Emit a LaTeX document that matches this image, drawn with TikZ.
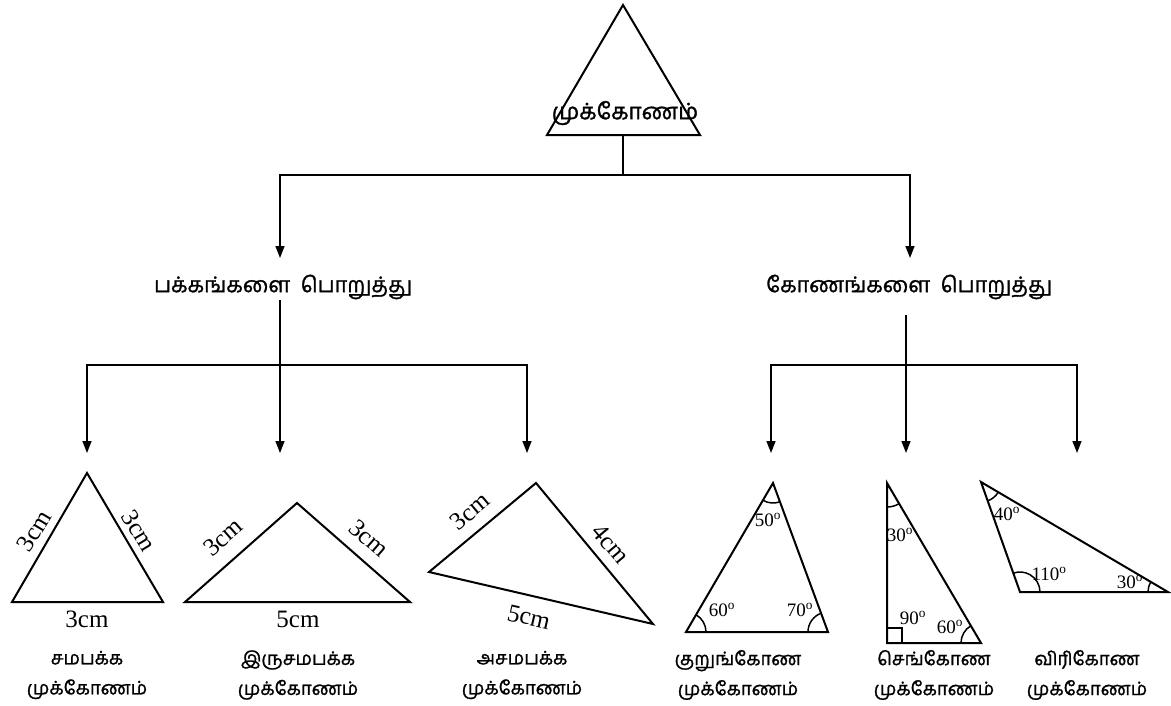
\documentclass[tikz,border=0pt]{standalone}
\usepackage{fontspec}
\setmainfont{Liberation Serif}
\newfontfamily\tafont[Script=Tamil,FakeBold=1.3]{Hind Madurai}
\usetikzlibrary{arrows.meta,angles}
\begin{document}
\begin{tikzpicture}[x=1pt,y=1pt,
  tri/.style={line width=2pt,line join=miter},
  conn/.style={line width=1.5pt},
  arr/.style={conn,-{Triangle[width=9pt,length=12pt]}},
  tam/.style={font=\tafont\fontsize{18.5}{30}\selectfont,inner sep=0pt,align=center},
  head/.style={font=\tafont\fontsize{21.5}{24}\selectfont,inner sep=0pt},
  lab/.style={font=\fontsize{25}{27}\selectfont,inner sep=0pt},
  deg/.style={font=\fontsize{19}{21}\selectfont,inner sep=0pt},
  arcmark/.style={draw,line width=1.5pt,angle radius=20pt}]
\useasboundingbox (0,0) rectangle (1171,-705);
% top triangle
\coordinate (T1) at (623,-5);
\coordinate (T2) at (547,-135);
\coordinate (T3) at (700,-135);
\draw[tri] (T1) -- (T2) -- (T3) -- cycle;
\node[tam,font=\tafont\fontsize{22.5}{24}\selectfont] (root) at (625,-113) {முக்கோணம்};
\coordinate (rootbase) at (623,-135);
\coordinate (j0) at (623,-175);
\coordinate (sidetip) at (280,-258);
\coordinate (angtip) at (910,-258);
\draw[conn] (rootbase) -- (j0);
\draw[arr] (j0) -| (sidetip);
\draw[arr] (j0) -| (angtip);
\node[head] (side) at (283,-287) {பக்கங்களை\ \ பொறுத்து};
\node[head] (angle) at (909,-287) {கோணங்களை\ \ பொறுத்து};
% left branch
\coordinate (sj) at (280,-300);
\coordinate (sh) at (280,-365);
\coordinate (s1) at (87,-453);
\coordinate (s2) at (280,-453);
\coordinate (s3) at (527,-453);
\draw[arr] (sj) -- (s2);
\draw[arr] (sh) -| (s1);
\draw[arr] (sh) -| (s3);
% right branch
\coordinate (aj) at (906,-315);
\coordinate (ah) at (906,-365);
\coordinate (a1) at (771,-453);
\coordinate (a2) at (906,-453);
\coordinate (a3) at (1077,-453);
\draw[arr] (aj) -- (a2);
\draw[arr] (ah) -| (a1);
\draw[arr] (ah) -| (a3);
% equilateral
\coordinate (E1) at (87,-473);
\coordinate (E2) at (12,-602);
\coordinate (E3) at (163,-602);
\draw[tri] (E1) -- (E2) -- (E3) -- cycle;
\node[lab,rotate=59] (e1) at (34,-531) {3cm};
\node[lab,rotate=-59] (e2) at (139,-531) {3cm};
\node[lab] (e3) at (87,-619) {3cm};
% isosceles
\coordinate (I1) at (297,-503);
\coordinate (I2) at (185,-602);
\coordinate (I3) at (410,-602);
\draw[tri] (I1) -- (I2) -- (I3) -- cycle;
\node[lab,rotate=41] (i1) at (223,-537) {3cm};
\node[lab,rotate=-41] (i2) at (369,-538) {3cm};
\node[lab] (i3) at (298,-619) {5cm};
% scalene
\coordinate (S1) at (536,-483);
\coordinate (S2) at (429,-572);
\coordinate (S3) at (653,-624);
\draw[tri] (S1) -- (S2) -- (S3) -- cycle;
\node[lab,rotate=40] (c1) at (470,-511) {3cm};
\node[lab,rotate=-50] (c2) at (611,-544) {4cm};
\node[lab,rotate=-13] (c3) at (529,-617) {5cm};
% acute
\coordinate (A) at (773,-483);
\coordinate (L) at (686,-632);
\coordinate (R) at (828,-632);
\draw[tri] (A) -- (L) -- (R) -- cycle;
\pic[arcmark] {angle=L--A--R};
\pic[arcmark] {angle=R--L--A};
\pic[arcmark] {angle=A--R--L};
\node[deg] (d50) at (768,-520) {50\textsuperscript{o}};
\node[deg] (d60a) at (722,-610) {60\textsuperscript{o}};
\node[deg] (d70) at (800,-610) {70\textsuperscript{o}};
% right
\coordinate (RT) at (887,-483);
\coordinate (RL) at (887,-643);
\coordinate (RR) at (981,-643);
\draw[tri] (RT) -- (RL) -- (RR) -- cycle;
\pic[arcmark,angle radius=24pt] {angle=RL--RT--RR};
\pic[arcmark] {angle=RT--RR--RL};
\draw[line width=1.5pt] (887,-628) -- (902,-628) -- (902,-643);
\node[deg] (d30a) at (900,-535) {30\textsuperscript{o}};
\node[deg] (d90) at (913,-618) {90\textsuperscript{o}};
\node[deg] (d60b) at (950,-627) {60\textsuperscript{o}};
% obtuse
\coordinate (P) at (981,-482);
\coordinate (Q) at (1020,-592);
\coordinate (S) at (1168,-592);
\draw[tri] (P) -- (Q) -- (S) -- cycle;
\pic[arcmark] {angle=Q--P--S};
\pic[arcmark] {angle=S--Q--P};
\pic[arcmark] {angle=P--S--Q};
\node[deg] (d40) at (1007,-514) {40\textsuperscript{o}};
\node[deg] (d110) at (1049,-574) {110\textsuperscript{o}};
\node[deg] (d30b) at (1130,-582) {30\textsuperscript{o}};
% names
\node[tam] (n1) at (87,-675) {சமபக்க\\முக்கோணம்};
\node[tam] (n2) at (298,-675) {இருசமபக்க\\முக்கோணம்};
\node[tam] (n3) at (522,-675) {அசமபக்க\\முக்கோணம்};
\node[tam] (n4) at (738,-675) {குறுங்கோண\\முக்கோணம்};
\node[tam] (n5) at (934,-675) {செங்கோண\\முக்கோணம்};
\node[tam] (n6) at (1087,-675) {விரிகோண\\முக்கோணம்};
\end{tikzpicture}
\end{document}
